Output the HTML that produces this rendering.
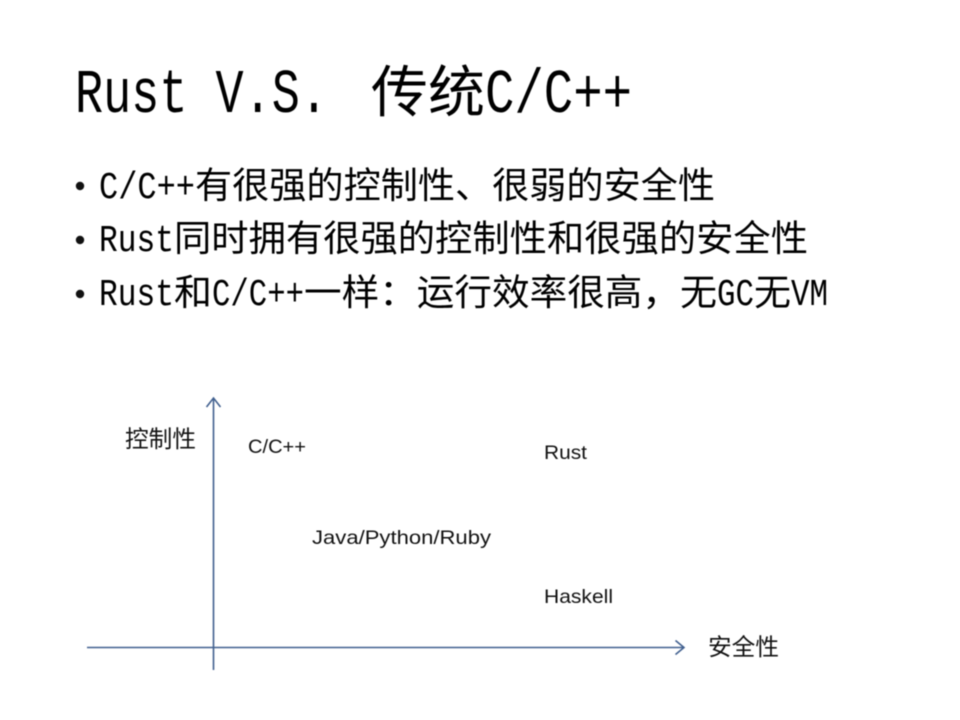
<!DOCTYPE html>
<html lang="zh">
<head>
<meta charset="utf-8">
<style>
html,body{margin:0;padding:0;background:#fff;width:960px;height:720px;overflow:hidden}
svg{display:block;filter:blur(.45px)}
.m{font-family:"Liberation Mono",monospace;fill:#000}
.c{font-family:"Noto Sans CJK SC","WenQuanYi Zen Hei",sans-serif;fill:#000}
.s{font-family:"Liberation Sans","Noto Sans CJK SC",sans-serif;fill:#111;font-size:19.5px}
.z{font-family:"Noto Sans CJK SC",sans-serif;fill:#111;font-size:23.5px}
.b{font-size:38px}.k{font-size:36.5px}
</style>
</head>
<body>
<svg xmlns="http://www.w3.org/2000/svg" width="960" height="720" viewBox="0 0 960 720">
<rect width="960" height="720" fill="#fff"/>
<text class="m" x="75" y="112" font-size="62" textLength="253" lengthAdjust="spacingAndGlyphs">Rust V.S.</text>
<text class="c" x="371" y="112" font-size="56" textLength="114" lengthAdjust="spacingAndGlyphs">传统</text>
<text class="m" x="485" y="112" font-size="62" textLength="147" lengthAdjust="spacingAndGlyphs">C/C++</text>

<circle cx="80" cy="186" r="4.2" fill="#111"/>
<text class="m b" x="99" y="198" textLength="96" lengthAdjust="spacingAndGlyphs">C/C++</text>
<text class="c k" x="195" y="198" textLength="520" lengthAdjust="spacingAndGlyphs">有很强的控制性、很弱的安全性</text>

<circle cx="80" cy="240" r="4.2" fill="#111"/>
<text class="m b" x="99" y="251" textLength="75" lengthAdjust="spacingAndGlyphs">Rust</text>
<text class="c k" x="174" y="251" textLength="634" lengthAdjust="spacingAndGlyphs">同时拥有很强的控制性和很强的安全性</text>

<circle cx="80" cy="294" r="4.2" fill="#111"/>
<text class="m b" x="99" y="305" textLength="75" lengthAdjust="spacingAndGlyphs">Rust</text>
<text class="c k" x="174" y="305" textLength="38" lengthAdjust="spacingAndGlyphs">和</text>
<text class="m b" x="212" y="305" textLength="92" lengthAdjust="spacingAndGlyphs">C/C++</text>
<text class="c k" x="304" y="305" textLength="376" lengthAdjust="spacingAndGlyphs">一样：运行效率很高，</text>
<text class="c k" x="680" y="305" textLength="37" lengthAdjust="spacingAndGlyphs">无</text>
<text class="m b" x="717" y="305" textLength="37" lengthAdjust="spacingAndGlyphs">GC</text>
<text class="c k" x="754" y="305" textLength="37" lengthAdjust="spacingAndGlyphs">无</text>
<text class="m b" x="791" y="305" textLength="37" lengthAdjust="spacingAndGlyphs">VM</text>

<g fill="none" stroke="#41608f" stroke-width="1.6">
<path d="M213.5 670V398"/>
<path d="M206.5 407L213.5 398L220.5 407"/>
<path d="M87 647.5H684"/>
<path d="M675.5 640.5L684 647.5L675.5 654.5"/>
</g>

<text class="z" x="125" y="447" textLength="71" lengthAdjust="spacingAndGlyphs">控制性</text>
<text class="s" x="248" y="453" textLength="58" lengthAdjust="spacingAndGlyphs">C/C++</text>
<text class="s" x="544" y="459" textLength="43" lengthAdjust="spacingAndGlyphs">Rust</text>
<text class="s" x="312" y="544" textLength="179" lengthAdjust="spacingAndGlyphs">Java/Python/Ruby</text>
<text class="s" x="544" y="603" textLength="69" lengthAdjust="spacingAndGlyphs">Haskell</text>
<text class="z" x="708" y="655" textLength="71" lengthAdjust="spacingAndGlyphs">安全性</text>
</svg>
</body>
</html>
